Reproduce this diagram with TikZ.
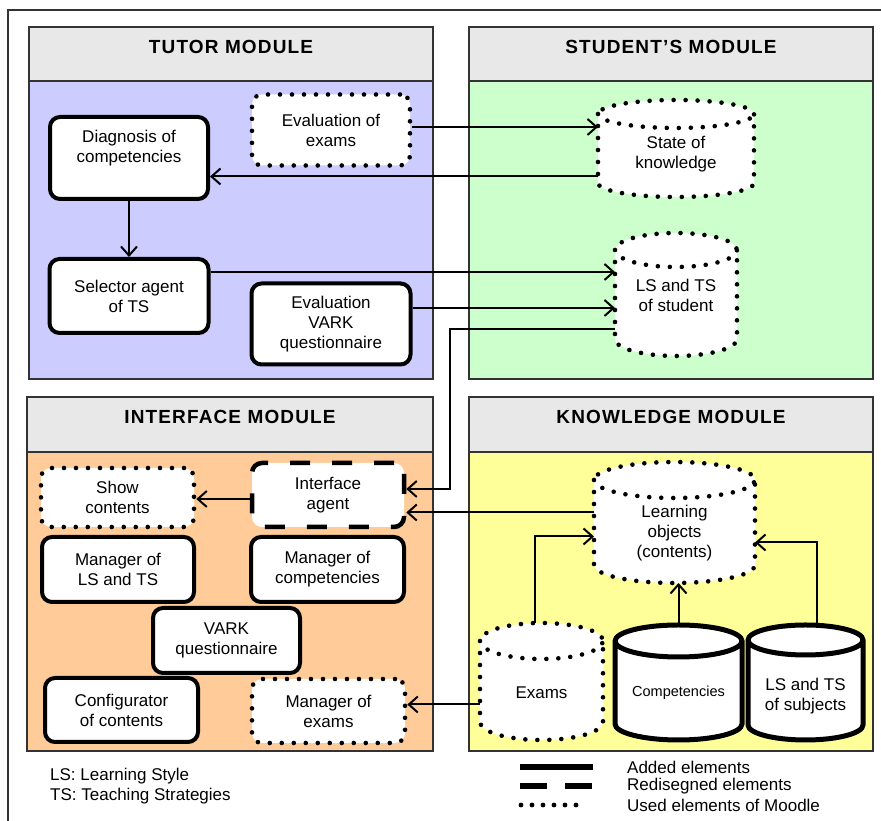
\documentclass[tikz,border=0pt]{standalone}
\usepackage{fontspec}
\setmainfont{Liberation Sans}
\newfontfamily\headfont[LetterSpace=6]{Liberation Sans}
\usetikzlibrary{arrows.meta,calc,backgrounds}

\definecolor{headgray}{HTML}{E8E8E8}
\definecolor{tutorblue}{HTML}{CCCCFF}
\definecolor{studgreen}{HTML}{CCFFCC}
\definecolor{interorange}{HTML}{FFCC99}
\definecolor{knowyellow}{HTML}{FFFF99}

\newcommand\bodyfont{\fontsize{17}{20}\selectfont}

% drum outline round a node: node, style, cap radius
\newcommand\drum[3]{%
  \draw[#2] let \p1=(#1.north west), \p2=(#1.south east), \n1={(\x2-\x1)/2} in
    (\x1,\y1-#3) -- (\x1,\y2+#3)
    arc[start angle=180, end angle=360, x radius=\n1, y radius=#3pt]
    -- (\x2,\y1-#3)
    arc[start angle=0, end angle=180, x radius=\n1, y radius=#3pt] -- cycle
    (\x1,\y1-#3) arc[start angle=180, end angle=360, x radius=\n1, y radius=#3pt];
}

\begin{document}
\begin{tikzpicture}[x=1pt, y=1pt,
	modframe/.style={draw=black!80, line width=1.5pt},
	modtitle/.style={font={\headfont\bfseries\fontsize{19}{22}\selectfont}, inner sep=0pt},
	elem/.style={rectangle, rounded corners=10pt, fill=white, align=center, font=\bodyfont, inner sep=0pt},
	added/.style={draw, line width=4pt},
	redesigned/.style={draw, line width=4.5pt, dash pattern=on 20pt off 22pt},
	moodle/.style={draw, line width=4.6pt, line cap=round, dash pattern=on 0pt off 12pt},
	drumbox/.style={rectangle, inner sep=0pt, outer sep=0pt},
	drumtext/.style={align=center, font=\bodyfont, inner sep=0pt},
	conn/.style={line width=2pt, -{Straight Barb[length=9pt,width=16pt]}},
	legtext/.style={font=\bodyfont, inner sep=0pt}]
	\useasboundingbox (0,0) rectangle (881,821);

	\draw[modframe] (8,0) -- (8,811) -- (881,811);

	% modules
	\begin{scope}[on background layer]
		\draw[modframe, fill=headgray] (29,740) rectangle (433,794);
		\draw[modframe, fill=tutorblue] (29,442) rectangle (433,740);
		\draw[modframe, fill=headgray] (469,740) rectangle (873,794);
		\draw[modframe, fill=studgreen] (469,442) rectangle (873,740);
		\draw[modframe, fill=headgray] (27,369) rectangle (433,424);
		\draw[modframe, fill=interorange] (27,70) rectangle (433,369);
		\draw[modframe, fill=headgray] (469,369) rectangle (873,424);
		\draw[modframe, fill=knowyellow] (469,70) rectangle (873,369);
	\end{scope}
	\node[modtitle] (tutortitle) at (231,774) {TUTOR MODULE};
	\node[modtitle] (studtitle) at (671,774) {STUDENT’S MODULE};
	\node[modtitle] (intertitle) at (230,404) {INTERFACE MODULE};
	\node[modtitle] (knowtitle) at (671,404) {KNOWLEDGE MODULE};

	% tutor module
	\node[elem, moodle, minimum width=158, minimum height=71] (evalexams) at (331,691) {Evaluation of\\exams};
	\node[elem, added, minimum width=158, minimum height=82, label={[drumtext, yshift=10pt]center:Diagnosis of\\competencies}] (diagcomp) at (129,663) {};
	\node[elem, added, minimum width=159, minimum height=74] (selector) at (129,525) {Selector agent\\of TS};
	\node[elem, added, minimum width=159, minimum height=81] (evalvark) at (331,497) {Evaluation\\VARK\\questionnaire};

	% student's module
	\node[drumbox, minimum width=156, minimum height=97, label={[drumtext, yshift=-6pt]center:State of\\knowledge}] (knowstate) at (676,672.5) {};
	\node[drumbox, minimum width=122, minimum height=123, label={[drumtext, yshift=-1pt]center:LS and TS\\of student}] (lsts) at (676,526.5) {};

	% interface module
	\node[elem, moodle, minimum width=153, minimum height=59] (showcont) at (117.5,323.5) {Show\\contents};
	\node[elem, redesigned, minimum width=152, minimum height=64] (iagent) at (328,326) {Interface\\agent};
	\node[elem, added, minimum width=152, minimum height=65] (mglsts) at (118,251.5) {Manager of\\LS and TS};
	\node[elem, added, minimum width=153, minimum height=65] (mgcomp) at (327.5,251.5) {Manager of\\competencies};
	\node[elem, added, minimum width=147, minimum height=65] (vark) at (226.5,180.5) {VARK\\questionnaire};
	\node[elem, added, minimum width=153, minimum height=64] (config) at (121.5,111) {Configurator\\of contents};
	\node[elem, moodle, minimum width=153, minimum height=64] (mgexams) at (328.5,110) {Manager of\\exams};

	% knowledge module
	\node[drumbox, minimum width=161, minimum height=121, label={[drumtext, yshift=-11pt]center:Learning\\objects\\(contents)}] (lobjects) at (674.5,298.5) {};
	\node[drumbox, minimum width=123, minimum height=117, label={[drumtext, yshift=-11pt]center:Exams}] (exams) at (541.5,139.5) {};
	\node[drumbox, minimum width=127, minimum height=115, label={[drumtext, font=\fontsize{14.5}{18}\selectfont, yshift=-10pt]center:Competencies}] (comp) at (678.5,138.5) {};
	\node[drumbox, minimum width=115, minimum height=115, label={[drumtext, yshift=-14pt]center:LS and TS\\of subjects}] (lstssub) at (805.5,138.5) {};

	\begin{scope}[on background layer]
		\drum{knowstate}{moodle, fill=white}{14}
		\drum{lsts}{moodle, fill=white}{17}
		\drum{lobjects}{moodle, fill=white}{18}
		\drum{exams}{moodle, fill=white}{18}
		\drum{comp}{added, line width=5pt, fill=white}{16}
		\drum{lstssub}{added, line width=5pt, fill=white}{15}
	\end{scope}

	% connectors
	\draw[conn] ([yshift=3pt]evalexams.east) -- ([yshift=3pt]evalexams.east -| knowstate.west);
	\draw[conn] ([yshift=-28pt]knowstate.west) -- ([yshift=-28pt]knowstate.west -| diagcomp.east);
	\draw[conn] (diagcomp.south) -- (selector.north);
	\draw[conn] ([yshift=24pt]selector.east) -- ([yshift=24pt]selector.east -| lsts.west);
	\draw[conn] ([yshift=16pt]evalvark.east) -- ([yshift=16pt]evalvark.east -| lsts.west);
	\draw[conn] ([yshift=-35pt]lsts.west) -| ([xshift=44pt, yshift=6pt]iagent.east) -- ([yshift=6pt]iagent.east);
	\draw[conn] ([yshift=10pt]lobjects.west) -- ([yshift=10pt]lobjects.west -| iagent.east);
	\draw[conn] ([yshift=-4pt]iagent.west) -- ([yshift=-4pt]iagent.west -| showcont.east);
	\draw[conn] ([yshift=-23pt]exams.west) -- ([yshift=-23pt]exams.west -| mgexams.east);
	\draw[conn] ([xshift=-7pt]exams.north) |- ([yshift=-14pt]lobjects.west);
	\draw[conn] (comp.north) -- (comp.north |- lobjects.south);
	\draw[conn] ([xshift=11pt]lstssub.north) |- ([yshift=-20pt]lobjects.east);

	% legend
	\node[legtext, anchor=west, align=left] (abbrev) at (50,34.5) {LS: Learning Style\\TS: Teaching Strategies};
	\node[legtext, anchor=west] (legadded) at (627,54) {Added elements};
	\node[legtext, anchor=west] (legredes) at (627,35) {Redisegned elements};
	\node[legtext, anchor=west] (legmoodle) at (627,16) {Used elements of Moodle};
	\draw[line width=6pt] ([xshift=-107pt]legadded.west) -- ([xshift=-34pt]legadded.west);
	\draw[line width=6pt, dash pattern=on 27pt off 18pt] ([xshift=-107pt]legredes.west) -- ([xshift=-35pt]legredes.west);
	\draw[line width=4.8pt, line cap=round, dash pattern=on 0pt off 11pt] ([xshift=-106pt]legmoodle.west) -- ([xshift=-40pt]legmoodle.west);

\end{tikzpicture}
\end{document}
